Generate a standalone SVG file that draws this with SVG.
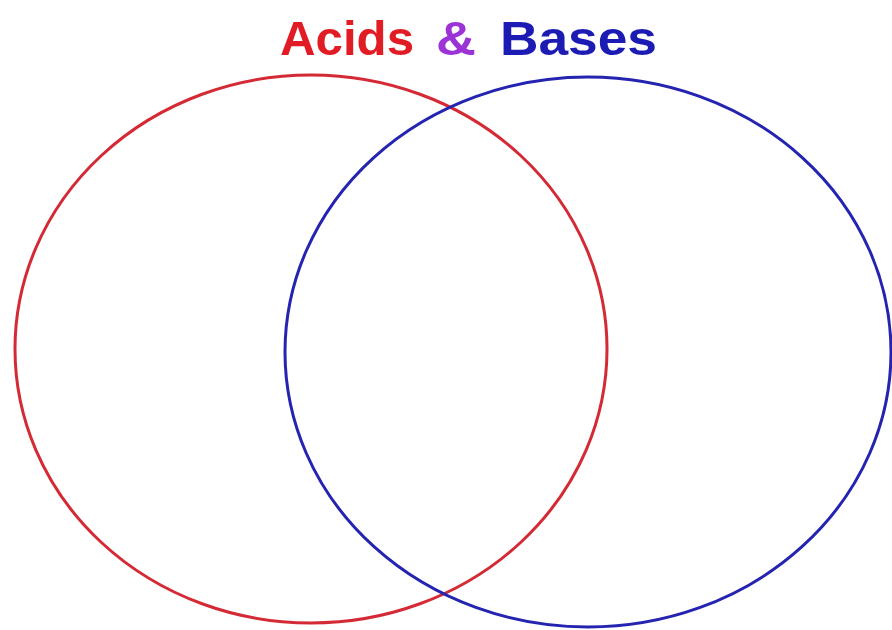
<svg xmlns="http://www.w3.org/2000/svg" width="892" height="630" viewBox="0 0 892 630">
<style>
.t{font-family:"Liberation Sans",Arial,sans-serif;font-weight:bold;font-size:48px}
.c{fill:none;stroke-width:3}
</style>
<rect width="892" height="630" fill="#ffffff"/>
<g id="title">
<text class="t" x="280" y="55" fill="#e21c24" textLength="134" lengthAdjust="spacingAndGlyphs">Acids</text>
<text class="t" x="436" y="55" fill="#9b33d6" textLength="40" lengthAdjust="spacingAndGlyphs">&amp;</text>
<text class="t" x="500" y="55" fill="#1c1cb4" textLength="157" lengthAdjust="spacingAndGlyphs">Bases</text>
</g>
<g id="acids">
<ellipse class="c" cx="311" cy="349" rx="296" ry="274" stroke="#d42a35"/>
</g>
<g id="bases">
<ellipse class="c" cx="588" cy="352" rx="303" ry="275" stroke="#2424b0"/>
</g>
</svg>
